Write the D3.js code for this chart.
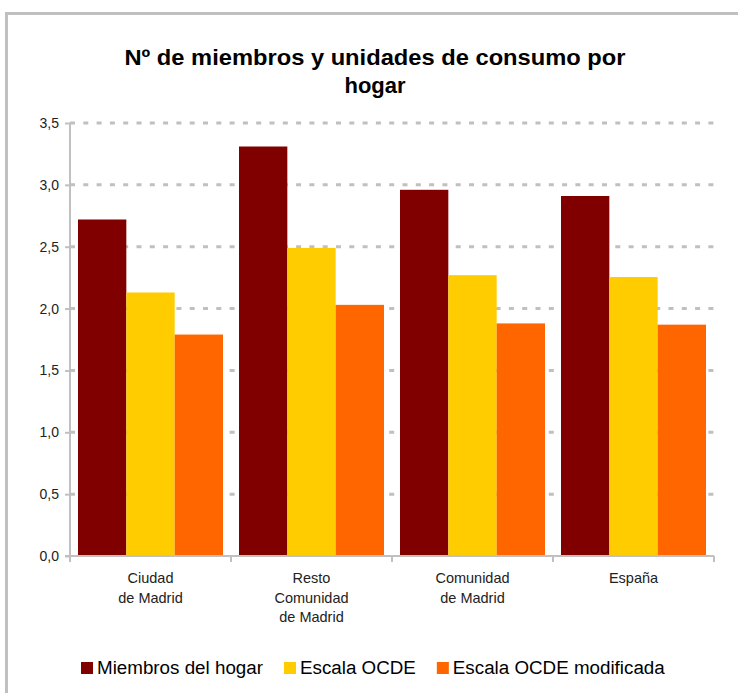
<!DOCTYPE html>
<html><head><meta charset="utf-8">
<script src="https://cdn.jsdelivr.net/npm/d3@7"></script>
<style>html,body{margin:0;padding:0;background:#fff;}svg{display:block;font-family:"Liberation Sans",Arial,sans-serif;}</style>
</head><body>
<svg id="c" width="738" height="693"></svg>
<script>
const categories = [["Ciudad","de Madrid"],["Resto","Comunidad","de Madrid"],["Comunidad","de Madrid"],["España"]];
const seriesNames = ["Miembros del hogar","Escala OCDE","Escala OCDE modificada"];
const miembros = [2.72, 3.31, 2.96, 2.91];
const escalaOCDE = [2.13, 2.49, 2.27, 2.255];
const escalaOCDEmod = [1.79, 2.03, 1.88, 1.87];
const yTicks = [0,0.5,1,1.5,2,2.5,3,3.5];
const colors = ["#800000","#FFCC00","#FF6600"];
const titleLines = ["Nº de miembros y unidades de consumo por","hogar"];

const svg = d3.select("#c");
svg.append("rect").attr("x",6.5).attr("y",13.5).attr("width",900).attr("height",900)
  .attr("fill","none").attr("stroke","#c0c0c0").attr("stroke-width",3);

const L=70,R=714,T=123,B=556;
const y = d3.scaleLinear().domain([0,3.5]).range([B,T]);
const keys = categories.map((c,i)=>i);
const x0 = d3.scaleBand().domain(keys).range([L,R]).padding(0);
const x1 = d3.scaleBand().domain(d3.range(3)).range([8, x0.bandwidth()-8]).padding(0);
const series=[miembros,escalaOCDE,escalaOCDEmod];

// gridlines
svg.append("g").selectAll("line").data(yTicks.filter(d=>d>0)).join("line")
  .attr("x1",L).attr("x2",R+4).attr("y1",d=>y(d)).attr("y2",d=>y(d))
  .attr("stroke","#c0c0c0").attr("stroke-width",3).attr("stroke-dasharray","5,8.3");

// bars
const g = svg.append("g");
keys.forEach(i=>{
  series.forEach((s,j)=>{
    g.append("rect").attr("x",x0(i)+x1(j)).attr("width",x1.bandwidth())
      .attr("y",y(s[i])).attr("height",B-y(s[i])).attr("fill",colors[j]);
  });
});

// y axis
const fmt = d=>d3.format(".1f")(d).replace(".",",");
const ya = svg.append("g").attr("transform",`translate(${L},0)`)
  .call(d3.axisLeft(y).tickValues(yTicks).tickFormat(fmt).tickSize(5).tickPadding(6));
ya.select(".domain").attr("stroke","#c0c0c0").attr("stroke-width",2).attr("d",`M0,${T}V${B}`);
ya.selectAll(".tick line").attr("stroke","#c0c0c0").attr("stroke-width",2);
ya.selectAll(".tick text").attr("font-size",14).attr("fill","#222").attr("font-family","Liberation Sans, Arial, sans-serif");

// x axis
const xa = svg.append("g").attr("transform",`translate(0,${B})`);
xa.append("line").attr("x1",L-5).attr("x2",R).attr("y1",0).attr("y2",0).attr("stroke","#c0c0c0").attr("stroke-width",2);
const bounds = keys.map(i=>x0(i)).concat([R]);
xa.selectAll("line.t").data(bounds).join("line").attr("class","t")
  .attr("x1",d=>d).attr("x2",d=>d).attr("y1",0).attr("y2",6).attr("stroke","#c0c0c0").attr("stroke-width",2);
keys.forEach(i=>{
  const t = svg.append("text").attr("text-anchor","middle").attr("font-size",14.5).attr("fill","#222");
  categories[i].forEach((line,k)=>{
    t.append("tspan").attr("x",x0(i)+x0.bandwidth()/2).attr("y",B+27+k*19.5).text(line);
  });
});

// title
titleLines.forEach((t,k)=>{
  const tt = svg.append("text").attr("x",375).attr("y",65+k*28).attr("text-anchor","middle")
    .attr("font-size",22).attr("font-weight","bold").attr("fill","#000").text(t);
  if(k===0) tt.attr("textLength",501).attr("lengthAdjust","spacingAndGlyphs");
});

// legend
const lg = svg.append("g");
let lx = 81;
seriesNames.forEach((n,j)=>{
  lg.append("rect").attr("x",lx).attr("y",662).attr("width",12).attr("height",12).attr("fill",colors[j]);
  const tx = lg.append("text").attr("x",lx+16).attr("y",674).attr("font-size",18.8).attr("fill","#000").text(n);
  lx += 16 + tx.node().getComputedTextLength() + 21;
});
</script>
</body></html>
